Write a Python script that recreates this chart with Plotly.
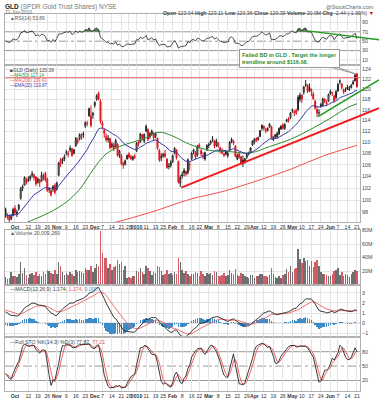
import math
import numpy as np
import pandas as pd
import plotly.graph_objects as go

W, H = 379, 400

# ---------------- data ----------------
opens = [98.6, 97.4, 97.6, 97.0, 97.6, 98.7, 97.8, 98.6, 100.3, 102.0,
         102.5, 103.4, 103.5, 103.6, 104.2, 104.2, 103.9, 102.9, 103.3, 103.2,
         103.8, 104.5, 103.5, 101.9, 101.6, 101.8, 102.5, 101.8, 104.2, 106.8,
         106.6, 107.0, 108.1, 107.8, 108.6, 108.8, 108.0, 109.3, 110.3, 110.6,
         111.2, 111.3, 112.9, 113.4, 114.8, 113.0, 115.0, 116.8, 118.0, 119.2,
         117.6, 113.5, 112.2, 111.0, 110.7, 110.6, 109.2, 109.5, 109.2, 109.6,
         107.6, 107.6, 106.3, 106.0, 107.0, 107.9, 107.4, 106.9, 107.5, 108.4,
         110.0, 110.0, 111.3, 110.2, 112.0, 112.3, 111.0, 111.4, 111.6, 111.0,
         110.7, 108.5, 107.2, 107.8, 107.9, 107.0, 105.8, 106.4, 106.5, 108.0,
         108.6, 106.6, 102.8, 104.3, 105.0, 104.8, 104.6, 106.0, 107.0, 108.6,
         108.2, 107.7, 109.5, 108.5, 107.5, 107.0, 108.6, 109.6, 109.8, 110.6,
         110.3, 109.4, 109.8, 109.0, 108.3, 107.9, 108.4, 107.6, 108.6, 110.2,
         110.2, 109.3, 107.0, 107.9, 107.4, 106.8, 106.6, 107.3, 108.1, 108.2,
         109.5, 110.0, 110.6, 110.5, 111.0, 112.5, 112.9, 112.3, 112.2, 112.8,
         112.8, 110.4, 111.3, 110.9, 111.5, 112.4, 113.2, 112.5, 113.8, 114.3,
         114.5, 115.8, 115.6, 115.8, 116.0, 118.0, 118.8, 119.3, 120.8, 120.8,
         120.3, 119.9, 119.0, 117.6, 116.0, 115.4, 116.6, 116.8, 118.0, 117.4,
         117.6, 119.1, 119.2, 118.6, 118.3, 119.6, 121.4, 121.0, 119.8, 119.8,
         120.4, 119.9, 120.3, 121.0, 121.6, 123.04]
highs = [98.8, 97.9, 97.7, 97.8, 98.8, 99.2, 98.5, 99.4, 102.2, 102.6,
         104.0, 103.8, 104.0, 104.2, 104.9, 104.5, 104.0, 103.8, 103.6, 104.8,
         104.5, 104.8, 103.8, 102.1, 101.8, 102.5, 102.8, 103.1, 106.5, 107.2,
         107.2, 107.8, 108.6, 108.4, 109.4, 109.0, 108.8, 110.9, 110.8, 111.6,
         111.6, 111.9, 113.8, 113.9, 116.4, 116.8, 115.6, 117.6, 119.0, 119.5,
         118.0, 113.9, 112.4, 111.6, 111.3, 110.8, 110.0, 109.9, 110.6, 109.8,
         108.6, 107.9, 106.5, 106.9, 107.8, 108.2, 107.7, 107.6, 107.9, 110.0,
         110.3, 111.7, 111.5, 111.6, 113.2, 112.5, 111.8, 112.3, 111.8, 111.8,
         110.8, 108.8, 108.0, 108.1, 108.6, 107.1, 106.3, 106.8, 107.8, 109.1,
         108.7, 106.7, 104.2, 104.8, 105.4, 105.0, 107.1, 106.5, 108.3, 108.8,
         108.4, 109.5, 109.8, 108.8, 108.2, 108.3, 109.6, 109.9, 110.4, 111.1,
         110.4, 110.6, 110.0, 109.2, 108.9, 108.1, 108.6, 108.3, 110.2, 110.8,
         110.4, 109.5, 107.9, 108.1, 107.5, 107.6, 107.2, 108.0, 108.3, 109.1,
         110.3, 110.7, 110.9, 111.0, 112.2, 113.2, 113.0, 112.6, 112.7, 113.5,
         113.0, 111.1, 111.5, 111.9, 112.7, 113.1, 113.4, 113.5, 114.3, 114.6,
         115.6, 116.2, 116.0, 116.2, 118.8, 119.3, 119.0, 120.6, 121.8, 121.0,
         121.1, 120.1, 119.5, 117.9, 116.6, 116.1, 117.3, 118.3, 118.2, 117.8,
         119.1, 119.9, 119.5, 118.9, 119.8, 121.2, 121.9, 121.2, 120.1, 120.3,
         120.8, 120.6, 121.0, 121.8, 122.9, 123.11]
lows = [97.2, 96.9, 96.5, 96.8, 97.4, 97.6, 97.3, 98.3, 100.1, 101.5,
        102.4, 102.6, 103.0, 103.2, 103.8, 103.3, 102.4, 102.8, 102.2, 103.1,
        103.3, 103.1, 101.4, 101.2, 100.6, 101.4, 101.0, 101.6, 104.0, 105.6,
        106.1, 106.6, 107.6, 107.3, 108.2, 107.4, 107.8, 109.2, 109.6, 110.3,
        110.4, 110.7, 112.6, 112.9, 114.7, 112.7, 114.3, 116.4, 117.7, 117.8,
        113.4, 112.3, 110.8, 110.1, 109.9, 108.7, 108.9, 108.4, 109.0, 107.4,
        107.2, 105.9, 105.3, 105.9, 106.9, 107.1, 106.8, 106.7, 107.0, 108.2,
        109.2, 109.9, 110.3, 109.8, 111.8, 110.2, 110.6, 111.2, 110.3, 110.7,
        108.6, 106.5, 106.6, 107.2, 107.2, 105.3, 105.2, 105.5, 106.3, 107.8,
        106.9, 102.8, 102.2, 103.6, 104.0, 104.0, 104.3, 105.0, 106.8, 107.8,
        107.0, 107.4, 108.8, 107.5, 107.0, 106.7, 108.4, 108.9, 109.5, 110.0,
        108.9, 109.1, 109.0, 108.0, 107.8, 107.3, 107.6, 107.2, 108.4, 109.8,
        109.5, 107.3, 106.8, 107.0, 106.0, 105.6, 106.2, 107.0, 107.6, 108.0,
        109.3, 109.6, 110.0, 110.2, 110.9, 112.1, 112.1, 111.6, 111.9, 112.6,
        110.5, 110.2, 110.6, 110.6, 111.3, 112.2, 112.3, 112.2, 113.6, 113.6,
        114.2, 115.4, 114.8, 115.0, 115.7, 117.5, 117.3, 118.9, 120.4, 119.2,
        119.4, 118.6, 117.9, 116.0, 114.6, 114.9, 116.4, 116.7, 117.3, 116.7,
        117.5, 118.8, 118.6, 117.4, 118.0, 119.5, 120.9, 119.9, 119.0, 119.4,
        119.8, 119.6, 120.1, 120.8, 121.5, 120.36]
closes = [97.55, 97.30, 96.80, 97.40, 98.50, 98.00, 98.10, 99.20, 101.90, 102.30,
          103.80, 103.00, 103.30, 104.00, 104.40, 103.80, 102.70, 103.60, 103.00, 104.20,
          104.00, 103.40, 101.60, 101.80, 100.90, 102.30, 101.30, 102.90, 106.30, 106.20,
          107.00, 107.40, 108.20, 108.00, 108.90, 107.60, 108.60, 110.70, 110.00, 111.40,
          111.00, 111.50, 113.60, 113.40, 116.20, 114.80, 115.30, 117.40, 118.70, 118.00,
          113.80, 113.00, 111.60, 110.40, 110.50, 109.00, 109.60, 108.80, 110.30, 107.60,
          108.40, 106.20, 105.90, 106.70, 107.60, 107.30, 107.10, 107.40, 107.30, 109.80,
          109.70, 111.50, 110.80, 111.40, 112.90, 110.50, 111.50, 112.00, 110.80, 111.50,
          108.90, 106.80, 107.50, 107.60, 107.50, 105.50, 105.70, 105.90, 107.60, 108.90,
          107.20, 103.00, 103.80, 104.10, 104.60, 104.40, 106.90, 106.00, 108.00, 108.30,
          107.30, 109.20, 109.10, 107.90, 107.60, 108.10, 109.40, 109.40, 110.10, 110.50,
          109.30, 110.20, 109.30, 108.40, 108.10, 107.70, 107.90, 108.00, 110.00, 110.50,
          109.80, 107.50, 107.60, 107.30, 106.30, 106.30, 107.00, 107.80, 107.90, 108.95,
          110.20, 110.50, 110.40, 110.80, 112.10, 113.10, 112.50, 112.10, 112.50, 113.30,
          110.80, 110.90, 111.00, 111.60, 112.50, 112.90, 112.50, 113.20, 114.10, 114.00,
          115.40, 115.90, 115.50, 115.40, 118.40, 118.80, 118.00, 120.40, 120.90, 119.50,
          119.80, 119.60, 118.10, 116.30, 115.40, 115.40, 117.00, 118.10, 117.60, 117.10,
          118.90, 119.50, 119.30, 117.70, 119.50, 120.90, 121.60, 120.30, 119.40, 119.90,
          120.00, 120.00, 120.70, 121.40, 122.83, 120.39]
volumes_m = [11, 8, 10, 18, 12, 13, 11, 16, 33, 17,
             24, 14, 10, 16, 17, 14, 18, 12, 15, 13, 19, 16,
             22, 20, 17, 16, 21, 15, 34, 28, 18, 14,
             17, 14, 18, 16, 13, 22, 18, 20, 19, 17,
             24, 21, 22, 27, 19, 25, 31, 28, 79,
             47, 40, 40, 25, 30, 22, 26, 28, 36, 30,
             34, 22, 27, 10, 11, 10, 12, 13,
             20, 18, 25, 18, 16, 28, 24, 20, 14, 19,
             17, 27, 26, 20, 14, 15, 21, 16, 17,
             14, 18, 16, 40, 34, 22, 17, 20, 16, 12,
             16, 15, 18, 17, 13, 20, 15, 13, 17,
             15, 17, 14, 20, 18, 13, 12, 14, 17, 13,
             14, 21, 17, 15, 23, 14, 12, 17, 15, 13,
             11, 10, 14, 14, 10, 12, 13, 16, 15,
             13, 12, 11, 14, 24, 15, 11, 10, 12, 9,
             14, 16, 23, 19, 27, 18, 23, 25, 52, 38,
             32, 40, 35, 36, 28, 35, 26, 33, 36, 27,
             18, 16, 15, 14, 12, 13, 16, 20, 22, 24,
             14, 18, 12, 16, 14, 11, 15, 18, 21, 20]

# moving averages that need history before the chart
ma50_idx = [5, 11, 23, 32, 39, 46, 53, 60, 67, 74, 81, 88, 97, 108, 118, 129, 139, 150, 160, 171, 180, 185]
ma50_val = [95.6, 96.4, 98.0, 99.7, 101.8, 105.1, 107.9, 109.2, 110.0, 110.8, 111.8, 111.1, 109.6,
            108.5, 108.3, 108.1, 109.2, 110.5, 112.2, 114.4, 116.4, 117.14]
ma200_idx = [40, 57, 76, 97, 115, 132, 150, 167, 185]
ma200_val = [95.2, 96.4, 98.0, 100.15, 101.5, 103.2, 105.2, 107.5, 109.43]

# indicator warm-up states (before the first bar)
ema20_seed = 97.6
ema12_seed, ema26_seed, signal_seed = 98.0, 96.75, 1.35
rsi_gain_seed, rsi_loss_seed = 0.40, 0.39
sto_seed_high, sto_seed_low = 99.8, 96.4

# analyst drawings
resistance_level = 122.25
support_red = [(92.5, 102.1), (196.6, 116.3)]
support_green = [(164.5, 114.7), (196.6, 121.8)]

tick_dates = ["2009-10-01", "2009-10-12", "2009-10-19", "2009-10-26", "2009-11-02", "2009-11-09",
              "2009-11-16", "2009-11-23", "2009-12-01", "2009-12-07", "2009-12-14", "2009-12-21",
              "2009-12-28", "2010-01-04", "2010-01-11", "2010-01-19", "2010-01-25", "2010-02-01",
              "2010-02-08", "2010-02-16", "2010-02-22", "2010-03-01", "2010-03-08", "2010-03-15",
              "2010-03-22", "2010-03-29", "2010-04-05", "2010-04-12", "2010-04-19", "2010-04-26",
              "2010-05-03", "2010-05-10", "2010-05-17", "2010-05-24", "2010-06-01", "2010-06-07",
              "2010-06-14", "2010-06-21"]
tick_labels = ["<b>Oct</b>", "12", "19", "26", "<b>Nov</b>", "9", "16", "23", "<b>Dec</b>", "7", "14", "21",
               "28", "<b>2010</b>", "11", "19", "25", "<b>Feb</b>", "8", "16", "22", "<b>Mar</b>", "8", "15",
               "22", "29", "<b>Apr</b>", "12", "19", "26", "<b>May</b>", "10", "17", "24", "<b>Jun</b>", "7",
               "14", "21"]

holidays = ["2009-11-26", "2009-12-25", "2010-01-01", "2010-01-18", "2010-02-15", "2010-04-02", "2010-05-31"]

# ---------------- derived ----------------
dates = pd.bdate_range("2009-09-24", "2010-06-21")
dates = dates[~dates.isin(pd.to_datetime(holidays))]
n = len(closes)
x = np.arange(n)
tick_idx = [int(dates.get_loc(pd.Timestamp(d))) for d in tick_dates]

c = np.array(closes)
o = np.array(opens)
hi = np.array(highs)
lo = np.array(lows)


def ema(series, span, seed):
    a = 2.0 / (span + 1)
    v = seed
    out = []
    for s in series:
        v = v + a * (s - v)
        out.append(v)
    return np.array(out)


ema20 = ema(c, 20, ema20_seed)
macd = ema(c, 12, ema12_seed) - ema(c, 26, ema26_seed)
signal = ema(macd, 9, signal_seed)
hist = macd - signal

g, l = rsi_gain_seed, rsi_loss_seed
rsi = []
for i in range(n):
    if i > 0:
        d = c[i] - c[i - 1]
        g = (g * 13 + max(d, 0)) / 14
        l = (l * 13 + max(-d, 0)) / 14
    rsi.append(100 - 100 / (1 + g / l))
rsi = np.array(rsi)

raw = []
for i in range(n):
    s = max(0, i - 13)
    hh = hi[s:i + 1].max()
    ll = lo[s:i + 1].min()
    if i - 13 < 0:
        hh = max(hh, sto_seed_high)
        ll = min(ll, sto_seed_low)
    raw.append(100 * (c[i] - ll) / (hh - ll))
stok = np.array([np.mean(raw[max(0, i - 2):i + 1]) for i in range(n)])
stod = np.array([np.mean(stok[max(0, i - 2):i + 1]) for i in range(n)])

prev = np.concatenate([[c[0] - 0.01], c[:-1]])
up = c >= prev

# ---------------- layout geometry ----------------
def py(p):
    return 1 - p / H

XD = [5 / W, 360 / W]
XR = [-0.26, 186.6]
D_RSI = [py(63), py(12)]
D_PRICE = [py(221), py(63)]
D_VOL = [py(284), py(229)]
D_MACD = [py(337), py(284)]
D_STO = [py(391), py(337)]
PR = [math.log10(96.52), math.log10(124.88)]

fig = go.Figure()

GRID = "#e3e3e3"
FONT = "Liberation Sans"

# RSI
fig.add_trace(go.Scatter(x=x, y=[70] * n, mode="lines", line=dict(width=0), xaxis="x", yaxis="y",
                         hoverinfo="skip"))
fig.add_trace(go.Scatter(x=x, y=np.maximum(rsi, 70), mode="lines", line=dict(width=0), fill="tonexty",
                         fillcolor="#4f7d4f", xaxis="x", yaxis="y", hoverinfo="skip"))
fig.add_trace(go.Scatter(x=x, y=rsi, mode="lines", line=dict(color="#222", width=0.8), xaxis="x", yaxis="y"))

# Price
fig.add_trace(go.Scatter(x=ma200_idx, y=ma200_val, mode="lines", line=dict(color="#f05050", width=1,
                         shape="spline"), xaxis="x2", yaxis="y2"))
fig.add_trace(go.Scatter(x=ma50_idx, y=ma50_val, mode="lines", line=dict(color="#2f8a2f", width=1,
                         shape="spline"), xaxis="x2", yaxis="y2"))
fig.add_trace(go.Scatter(x=x, y=ema20, mode="lines", line=dict(color="#3a3aa8", width=1),
                         xaxis="x2", yaxis="y2"))
fig.add_trace(go.Scatter(x=[XR[0], XR[1]], y=[resistance_level] * 2, mode="lines",
                         line=dict(color="#f07070", width=1), xaxis="x2", yaxis="y2"))
for mask, col in ((up, "#222222"), (~up, "#e0141e")):
    idx = np.where(mask)[0]
    fig.add_trace(go.Candlestick(
        x=idx, open=o[idx], high=hi[idx], low=lo[idx], close=c[idx], xaxis="x2", yaxis="y2",
        whiskerwidth=0,
        increasing=dict(line=dict(color=col, width=1), fillcolor="white"),
        decreasing=dict(line=dict(color=col, width=1), fillcolor=col)))

# Volume
vcol = np.where(up, "#6e6e6e", "#d45c68")
fig.add_trace(go.Bar(x=x, y=volumes_m, marker=dict(color=list(vcol), line=dict(width=0)), width=0.8,
                     xaxis="x3", yaxis="y3"))

# MACD
fig.add_trace(go.Bar(x=x, y=hist, marker=dict(color="#3d8cc8", line=dict(width=0)), width=0.8,
                     xaxis="x4", yaxis="y4"))
fig.add_trace(go.Scatter(x=x, y=signal, mode="lines", line=dict(color="#f06060", width=0.9),
                         xaxis="x4", yaxis="y4"))
fig.add_trace(go.Scatter(x=x, y=macd, mode="lines", line=dict(color="#222", width=0.9),
                         xaxis="x4", yaxis="y4"))

# STO
fig.add_trace(go.Scatter(x=x, y=stod, mode="lines", line=dict(color="#f05050", width=0.9),
                         xaxis="x5", yaxis="y5"))
fig.add_trace(go.Scatter(x=x, y=stok, mode="lines", line=dict(color="#222", width=0.9),
                         xaxis="x5", yaxis="y5"))

xcommon = dict(range=XR, domain=XD, tickvals=tick_idx, ticktext=tick_labels, showgrid=True,
               gridcolor=GRID, gridwidth=1, showline=True, linecolor="#b0b0b0", linewidth=1, mirror=True,
               zeroline=False, ticks="", tickfont=dict(size=5.2, color="#333", family=FONT),
               fixedrange=True, tickangle=0)
ycommon = dict(side="right", showgrid=True, gridcolor=GRID, gridwidth=1, showline=True,
               linecolor="#b0b0b0", linewidth=1, mirror=True, zeroline=False, ticks="",
               tickfont=dict(size=5.3, color="#444", family=FONT), fixedrange=True)

layout = dict(
    width=W, height=H, margin=dict(l=0, r=0, t=0, b=0), paper_bgcolor="white", plot_bgcolor="white",
    showlegend=False, boxmode="overlay", bargap=0, font=dict(family=FONT, size=6, color="#333"),
    xaxis=dict(xcommon, anchor="y", showticklabels=False),
    xaxis2=dict(xcommon, anchor="y2", showticklabels=True, rangeslider=dict(visible=False)),
    xaxis3=dict(xcommon, anchor="y3", showticklabels=False),
    xaxis4=dict(xcommon, anchor="y4", showticklabels=False),
    xaxis5=dict(xcommon, anchor="y5", showticklabels=True),
    yaxis=dict(ycommon, anchor="x", domain=D_RSI, range=[0, 108], tickvals=[10, 30, 50, 70, 90],
               showgrid=False),
    yaxis2=dict(ycommon, anchor="x2", domain=D_PRICE, type="log", range=PR,
                tickvals=list(range(98, 125, 2)), ticktext=[str(v) for v in range(98, 125, 2)]),
    yaxis3=dict(ycommon, anchor="x3", domain=D_VOL, range=[0, 81], tickvals=[20, 40, 60, 80],
                ticktext=["20M", "40M", "60M", "80M"]),
    yaxis4=dict(ycommon, anchor="x4", domain=D_MACD, range=[-1.42, 3.83], tickvals=[-1, 0, 1, 2, 3]),
    yaxis5=dict(ycommon, anchor="x5", domain=D_STO, range=[-2, 110], tickvals=[20, 50, 80],
                showgrid=False),
)
fig.update_layout(**layout)

shapes = []
for yref, lvls in (("y", [(90, "solid", "#e3e3e3"), (10, "solid", "#e3e3e3"), (70, "solid", "#9a9a9a"),
                          (30, "solid", "#9a9a9a"), (50, "dashdot", "#9a9a9a")]),
                   ("y5", [(80, "solid", "#9a9a9a"), (20, "solid", "#9a9a9a"), (50, "dashdot", "#9a9a9a")]),
                   ("y4", [(0, "solid", "#c8c8c8")])):
    xr = "x domain" if yref == "y" else ("x5 domain" if yref == "y5" else "x4 domain")
    for v, dash, colr in lvls:
        shapes.append(dict(type="line", xref=xr, yref=yref, x0=0, x1=1, y0=v, y1=v,
                           line=dict(color=colr, width=1, dash=dash), layer="below"))


def to_paper(i, p):
    xp = XD[0] + (i - XR[0]) / (XR[1] - XR[0]) * (XD[1] - XD[0])
    yp = D_PRICE[0] + (math.log10(p) - PR[0]) / (PR[1] - PR[0]) * (D_PRICE[1] - D_PRICE[0])
    return xp, yp


def rsi_paper(i, v):
    xp = XD[0] + (i - XR[0]) / (XR[1] - XR[0]) * (XD[1] - XD[0])
    yp = D_RSI[0] + v / 108 * (D_RSI[1] - D_RSI[0])
    return xp, yp


for (pts, colr, wdt) in ((support_red, "#ee1c1c", 2), (support_green, "#1f9a1f", 1.6)):
    (x0, y0), (x1, y1) = to_paper(*pts[0]), to_paper(*pts[1])
    shapes.append(dict(type="line", xref="paper", yref="paper", x0=x0, y0=y0, x1=x1, y1=y1,
                       line=dict(color=colr, width=wdt)))

# RSI trend line
rx0, ry0 = rsi_paper(159, 72)
rx1, ry1 = rsi_paper(196.6, 53)
shapes.append(dict(type="line", xref="paper", yref="paper", x0=rx0, y0=ry0, x1=rx1, y1=ry1,
                   line=dict(color="#1f9a1f", width=1.4)))

# callout wedge
tipx, tipy = to_paper(184.4, 123.0)
for bx in (325, 333):
    shapes.append(dict(type="line", xref="paper", yref="paper", x0=bx / W, y0=py(64), x1=tipx, y1=tipy,
                       line=dict(color="#888", width=0.8)))
fig.update_layout(shapes=shapes)

ann = []


def txt(xp, yp, text, size=6, color="#333", anchor="left", **kw):
    ann.append(dict(x=xp / W, y=py(yp), xref="paper", yref="paper", text=text, showarrow=False,
                    xanchor=anchor, yanchor="middle", font=dict(size=size, color=color, family=FONT), **kw))


txt(3, 5, "<b>GLD</b> <span style='color:#777'>(SPDR Gold Trust Shares) NYSE</span>", size=6.5, color="#222")
txt(3, 10.2, "21-Jun-2010", size=4.8, color="#666")
txt(376, 5, "@StockCharts.com", size=5.5, color="#666", anchor="right")
txt(376, 11.5, "<b>Open</b> 123.04 <b>High</b> 123.11 <b>Low</b> 120.36 <b>Close</b> 120.39 "
               "<b>Volume</b> 20.0M <b>Chg</b> -2.44 (-1.99%) <span style='color:#d00'>▼</span>",
    size=5.2, color="#444", anchor="right")
txt(8, 16.2, "▲RSI(14) 53.89", size=4.8, color="#555")
txt(8, 68.8, "■GLD (Daily) 120.39", size=4.8, color="#444")
txt(8, 74.0, "<span style='color:#2f8a2f'>—MA(50) 117.14</span>", size=4.5)
txt(8, 79.0, "<span style='color:#f05050'>—MA(200) 109.43</span>", size=4.5)
txt(8, 84.0, "<span style='color:#3a3aa8'>—EMA(20) 119.87</span>", size=4.5)
txt(8, 232, "▲Volume 20,009,269", size=5.2, color="#555")
txt(8, 288, "—MACD(12,26,9) 1.174, <span style='color:#f05050'>1.174</span>, "
            "<span style='color:#3d8cc8'>0.000</span>", size=5.2, color="#444")
txt(8, 341.5, "—Full STO %K(14,3) %D(3) 77.87, <span style='color:#f05050'>77.21</span>",
    size=5.2, color="#444")

ann.append(dict(x=289 / W, y=py(57), xref="paper", yref="paper",
                text="<b>Failed BD in GLD . Target the longer<br>trendline around $116.08.</b>",
                showarrow=False, xanchor="center", yanchor="middle", align="left",
                font=dict(size=5.5, color="#2e8b2e", family=FONT), bgcolor="white",
                bordercolor="#999", borderwidth=1, borderpad=2))
fig.update_layout(annotations=ann)

fig.write_html("out.html", config={"displayModeBar": False, "staticPlot": True},
               post_script="document.body.style.margin='0px';")
